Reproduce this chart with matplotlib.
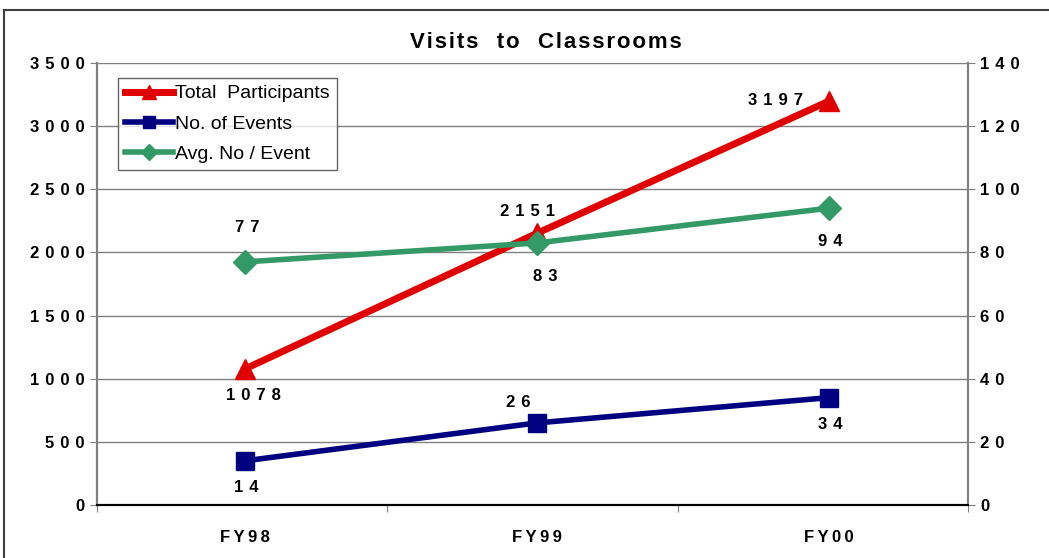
import matplotlib.pyplot as plt
from matplotlib.lines import Line2D

# data
years = ['FY98', 'FY99', 'FY00']
total_participants = [1078, 2151, 3197]
no_of_events = [14, 26, 34]
avg_per_event = [77, 83, 94]

left_ticks = [0, 500, 1000, 1500, 2000, 2500, 3000, 3500]
right_ticks = [0, 20, 40, 60, 80, 100, 120, 140]

GAP = ' \u200a'


def spaced(v, gap=GAP):
    return gap.join(str(v))


def tracked(s):
    # fake letter spacing with hair spaces
    return '\u200a'.join(s)


plt.rcParams['font.family'] = ['Liberation Sans', 'DejaVu Sans']

fig = plt.figure(figsize=(10.49, 5.58), dpi=100)
ax = fig.add_axes([97 / 1049, 1 - 505 / 558, 871 / 1049, 442 / 558])
ax2 = ax.twinx()

x = [0.51, 1.515, 2.52]

red = '#e00000'
navy = '#000080'
green = '#339966'

l1, = ax.plot(x, total_participants, color=red, lw=5, marker='^',
              markersize=15, label='Total  Participants', zorder=3)
l2, = ax2.plot(x, no_of_events, color=navy, lw=4, marker='s',
               markersize=13, label='No. of Events', zorder=3)
l3, = ax2.plot(x, avg_per_event, color=green, lw=4, marker='D',
               markersize=12, label='Avg. No / Event', zorder=3)

ax.set_xlim(0, 3)
ax.set_ylim(0, 3500)
ax2.set_ylim(0, 140)

FS = 12
ax.set_yticks(left_ticks)
ax.set_yticklabels([spaced(v) for v in left_ticks], fontsize=FS, fontweight='bold')
ax2.set_yticks(right_ticks)
ax2.set_yticklabels([spaced(v) for v in right_ticks], fontsize=FS, fontweight='bold')

ax.set_xticks([0, 1, 2, 3])
ax.set_xticklabels([])
ax.set_xticks(x, minor=True)
ax.set_xticklabels([spaced(y, '\u2009') for y in years], minor=True,
                   fontsize=FS, fontweight='bold')
ax.tick_params(axis='x', which='minor', length=0, pad=18)
ax.tick_params(axis='x', which='major', length=5, color='#808080')
ax.tick_params(axis='y', length=5, color='#808080', pad=4)
ax2.tick_params(axis='y', length=5, color='#808080', pad=4)

ax.grid(axis='y', color='#808080', lw=1)
ax.set_axisbelow(True)

for a in (ax, ax2):
    a.spines['top'].set_visible(False)
    a.spines['left'].set_color('#808080')
    a.spines['right'].set_color('#808080')
    a.spines['bottom'].set_color('black')
    a.spines['left'].set_linewidth(1.5)
    a.spines['right'].set_linewidth(1.5)
    a.spines['bottom'].set_linewidth(1.5)

# data labels (offsets in pixels)
lab = dict(fontsize=FS, fontweight='bold', ha='center', va='center',
           textcoords='offset pixels')
tp_off = [(8, -27), (-9, 22), (-53, 1)]
ev_off = [(1, -27), (-19, 20), (2, -27)]
av_off = [(2, 34), (8, -34), (2, -33)]
for xi, v, o in zip(x, total_participants, tp_off):
    ax.annotate(spaced(v), (xi, v), xytext=o, **lab)
for xi, v, o in zip(x, no_of_events, ev_off):
    ax2.annotate(spaced(v), (xi, v), xytext=o, **lab)
for xi, v, o in zip(x, avg_per_event, av_off):
    ax2.annotate(spaced(v), (xi, v), xytext=o, **lab)

title = '   '.join(tracked(w) for w in ['Visits', 'to', 'Classrooms'])
fig.text(546 / 1049, 1 - 42 / 558, title, fontsize=16,
         fontweight='bold', ha='center', va='center')

leg = ax2.legend(handles=[l1, l2, l3], loc='upper left',
                 bbox_to_anchor=(118 / 1049, 1 - 78 / 558),
                 bbox_transform=fig.transFigure, fontsize=14,
                 frameon=True, fancybox=False, edgecolor='#404040',
                 handlelength=2.5, handletextpad=0.1, borderpad=0.35,
                 labelspacing=0.65, borderaxespad=0, markerscale=0.7)
leg.get_frame().set_linewidth(1)

# outer frame (top and left edges)
fig.add_artist(Line2D([4 / 1049, 1], [1 - 10 / 558, 1 - 10 / 558],
                      color='#404040', lw=1.5, transform=fig.transFigure))
fig.add_artist(Line2D([4 / 1049, 4 / 1049], [0, 1 - 10 / 558],
                      color='#404040', lw=1.5, transform=fig.transFigure))

fig.savefig('out.png', dpi=100)
